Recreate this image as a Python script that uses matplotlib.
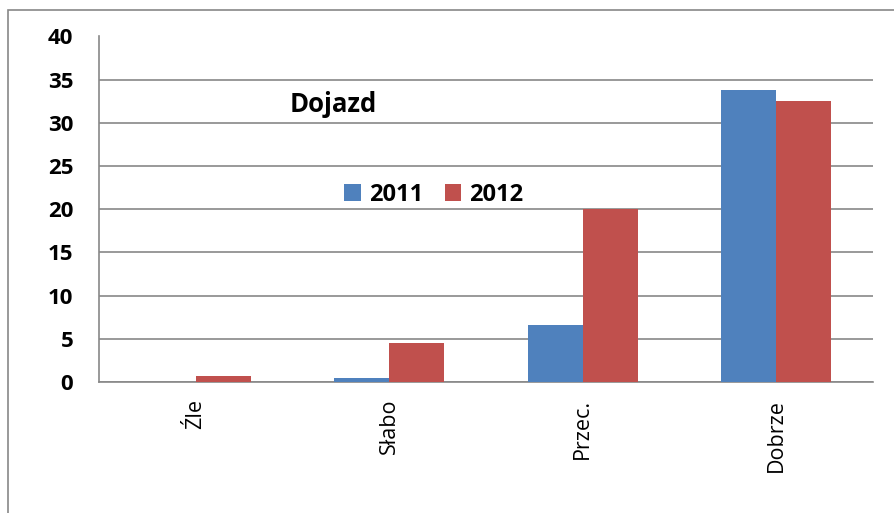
import matplotlib
matplotlib.use("Agg")
import matplotlib.pyplot as plt
import numpy as np
from matplotlib.patches import Rectangle

categories = ["Źle", "Słabo", "Przec.", "Dobrze"]
series_names = ["2011", "2012"]
values_2011 = [0.0, 0.5, 6.6, 33.8]
values_2012 = [0.7, 4.5, 20.0, 32.5]
yticks = [0, 5, 10, 15, 20, 25, 30, 35, 40]
colors = ["#4F81BD", "#C0504D"]

plt.rcParams['font.family'] = ['Open Sans', 'DejaVu Sans']

W, H = 895, 513
fig = plt.figure(figsize=(W/100, H/100), dpi=100)
# outer chart border
fig.patches.append(Rectangle((8/W, -0.05), 1.1, 1.05 - 10/H, transform=fig.transFigure,
                             fill=False, edgecolor="#888888", linewidth=1.2))
left, right, top, bottom = 99, 873, 36.5, 382
ax = fig.add_axes([left/W, 1 - bottom/H, (right-left)/W, (bottom-top)/H])

x = np.arange(len(categories))
bw = 0.284
ax.bar(x - bw/2, values_2011, bw, color=colors[0], label=series_names[0], zorder=3)
ax.bar(x + bw/2, values_2012, bw, color=colors[1], label=series_names[1], zorder=3)

ax.set_xlim(-0.5, len(categories) - 0.5)
ax.set_ylim(0, 40)
ax.set_yticks(yticks)
ax.set_yticklabels([str(t) for t in yticks], fontsize=16, fontweight='bold')
ax.set_xticks(x)
ax.set_xticklabels(categories, rotation=90, fontsize=15.5)
ax.tick_params(axis='both', length=0)
ax.tick_params(axis='y', pad=18.5)
ax.tick_params(axis='x', pad=12)
ax.yaxis.grid(True, color="#888888", linewidth=1.2, zorder=0)
for s in ["top", "right"]:
    ax.spines[s].set_visible(False)
for s in ["left", "bottom"]:
    ax.spines[s].set_color("#888888")
    ax.spines[s].set_linewidth(1.2)

fig.text(333/W, 1 - 104/H, "Dojazd", fontsize=18.5, fontweight='bold', ha='center', va='center')
leg = ax.legend(loc='center', bbox_to_anchor=((434-left)/(right-left), (bottom-195)/(bottom-top)),
                ncol=2, frameon=False, prop={'size': 17, 'weight': 'bold'},
                handlelength=0.7, handleheight=0.7, handletextpad=0.35, columnspacing=0.9)

fig.savefig("out.png", dpi=100)
